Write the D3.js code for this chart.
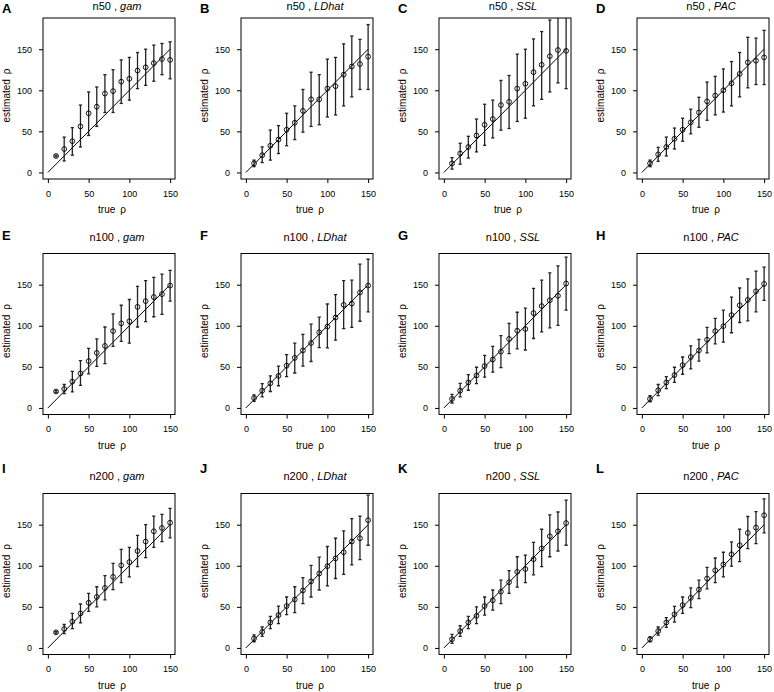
<!DOCTYPE html>
<html>
<head>
<meta charset="utf-8">
<script src="https://cdn.jsdelivr.net/npm/d3@7"></script>
<style>
  body { margin: 0; background: #fff; }
  svg { display: block; font-family: "Liberation Sans", Arial, sans-serif; }
</style>
</head>
<body>
<svg id="chart" width="774" height="692"></svg>
<script>
// true rho values (x), same for every panel
var trueRho = [10, 20, 30, 40, 50, 60, 70, 80, 90, 100, 110, 120, 130, 140, 150];

var sampleSizes = ["n50", "n100", "n200"];
var methods = ["gam", "LDhat", "SSL", "PAC"];
var panelLetters = ["A", "B", "C", "D", "E", "F", "G", "H", "I", "J", "K", "L"];
var tickVals = [0, 50, 100, 150];

// ---- n50 ----
var n50_gam_est = [20, 28.5, 38, 56, 72, 80, 96, 99, 110.5, 114, 124, 128, 133, 138, 137];
var n50_gam_lo  = [19, 14, 21, 31, 45, 56, 73, 73, 84, 88, 102, 106, 111, 119, 114];
var n50_gam_hi  = [21, 43, 54.5, 82, 98, 104, 119, 125, 137, 140, 146, 150, 155, 157, 159];

var n50_LDhat_est = [11, 21, 32.5, 40, 52, 60.5, 75, 89, 89, 102, 105, 119, 129, 132, 141];
var n50_LDhat_lo  = [7, 12, 15, 23, 32.5, 40, 49, 56, 58, 67.5, 70, 81, 92, 101, 101];
var n50_LDhat_hi  = [15, 31, 51.5, 57, 72, 81, 101, 122, 119, 138, 140, 156.5, 166, 162, 180];

var n50_SSL_est = [11, 23, 31, 45, 58, 65, 82, 86, 102, 108, 122, 131, 141.5, 149, 148];
var n50_SSL_lo  = [4, 10, 17.5, 25, 33, 42, 51.5, 53.5, 62, 66, 81, 89, 98, 109, 102];
var n50_SSL_hi  = [18, 35.5, 44, 65, 83, 88, 112, 118, 144, 150, 162.5, 171.5, 185.5, 196, 200];

var n50_PAC_est = [11, 22, 31, 41, 52, 61, 73, 86.5, 93.5, 100, 108.5, 120, 134, 136, 140];
var n50_PAC_lo  = [7, 13.5, 20, 28.5, 38, 47, 55, 63.5, 70, 73.5, 81, 92, 103, 107, 107];
var n50_PAC_hi  = [15, 30.5, 43, 54, 66, 77, 91.5, 110, 117, 126, 135, 146, 164.5, 163.5, 173];

// ---- n100 ----
var n100_gam_est = [20, 23, 32, 42, 57, 67, 75.5, 93.5, 103, 105.5, 123, 130, 135, 138.5, 149];
var n100_gam_lo  = [19, 17.5, 19.5, 27.5, 41.5, 50.5, 54, 75, 81, 79, 98.5, 105, 111, 114, 130];
var n100_gam_hi  = [21, 28.5, 44.5, 57.5, 72.5, 84, 98.5, 114.5, 125, 132, 148, 155, 159, 163, 167.5];

var n100_LDhat_est = [12, 21, 30, 39, 51.5, 61, 70, 79, 92, 99, 110, 125.5, 127, 140.5, 149];
var n100_LDhat_lo  = [8, 13.5, 20, 27, 38, 42.5, 51, 56.5, 73.5, 73, 82.5, 96.5, 98, 105.5, 117];
var n100_LDhat_hi  = [16, 29.5, 39, 51, 65, 79, 89.5, 102, 110.5, 126.5, 138, 155, 155.5, 175, 181];

var n100_SSL_est = [11, 21, 31, 39.5, 51, 59, 68.5, 84, 94, 96, 115.5, 124, 131, 136.5, 151.5];
var n100_SSL_lo  = [6, 13.5, 21.5, 29.5, 37.5, 43.5, 49, 66, 72, 70.5, 84.5, 92.5, 97.5, 100.5, 119];
var n100_SSL_hi  = [16.5, 30, 40.5, 49.5, 64, 75, 88, 103, 116.5, 121.5, 145.5, 155.5, 164.5, 173, 183.5];

var n100_PAC_est = [11, 21.5, 31, 40, 52, 62, 70, 83, 93.5, 99.5, 113, 125, 131.5, 142, 151];
var n100_PAC_lo  = [7.5, 15, 23.5, 31, 41, 47.5, 57, 67, 78, 80, 91.5, 104, 106, 117, 131];
var n100_PAC_hi  = [15, 28.5, 38, 49.5, 62, 75.5, 83.5, 98, 109, 119, 135, 146, 157, 166.5, 171.5];

// ---- n200 ----
var n200_gam_est = [19, 23, 32, 42, 55, 62, 73, 86.5, 100.5, 104.5, 118, 129.5, 142, 146, 152.5];
var n200_gam_lo  = [18, 17.5, 23.5, 30.5, 44.5, 50, 58.5, 71, 79.5, 86.5, 99, 110, 122.5, 129.5, 134];
var n200_gam_hi  = [20, 28.5, 42, 53.5, 66.5, 74.5, 88, 103, 120, 122.5, 137, 150, 160.5, 162.5, 170];

var n200_LDhat_est = [11.5, 19.5, 31, 40, 51, 59, 70, 81, 90.5, 99.5, 109, 116.5, 129.5, 133.5, 155.5];
var n200_LDhat_lo  = [7.5, 14, 23.5, 29.5, 40.5, 43, 54, 62, 70.5, 75.5, 84.5, 89.5, 101, 107.5, 125];
var n200_LDhat_hi  = [16, 25.5, 38.5, 51, 62, 74.5, 85.5, 100.5, 110.5, 123.5, 133.5, 142.5, 157.5, 160.5, 186];

var n200_SSL_est = [10.5, 20.5, 31, 39, 51, 58, 68.5, 80, 92.5, 96, 108, 121, 136, 142, 152];
var n200_SSL_lo  = [5.5, 14, 23.5, 29.5, 40, 46, 54, 66.5, 74, 79.5, 89, 99, 111, 118, 125];
var n200_SSL_hi  = [16.5, 27, 38.5, 50, 62, 70.5, 82.5, 94, 111, 113, 128.5, 144.5, 162, 165.5, 180];

var n200_PAC_est = [10.5, 20.5, 31, 41, 52, 61, 71, 84.5, 94.5, 101.5, 114, 125, 140, 146.5, 161.5];
var n200_PAC_lo  = [7.5, 15.5, 25, 31.5, 42, 49, 60, 72, 79.5, 86.5, 99.5, 105, 121, 127, 140];
var n200_PAC_hi  = [13.5, 25.5, 37, 50.5, 62, 73, 82.5, 98, 109.5, 116.5, 129, 144.5, 160, 166, 181.5];

// panel table, row by row (sample size), column by column (method)
var panelData = [
  [[n50_gam_est, n50_gam_lo, n50_gam_hi], [n50_LDhat_est, n50_LDhat_lo, n50_LDhat_hi],
   [n50_SSL_est, n50_SSL_lo, n50_SSL_hi], [n50_PAC_est, n50_PAC_lo, n50_PAC_hi]],
  [[n100_gam_est, n100_gam_lo, n100_gam_hi], [n100_LDhat_est, n100_LDhat_lo, n100_LDhat_hi],
   [n100_SSL_est, n100_SSL_lo, n100_SSL_hi], [n100_PAC_est, n100_PAC_lo, n100_PAC_hi]],
  [[n200_gam_est, n200_gam_lo, n200_gam_hi], [n200_LDhat_est, n200_LDhat_lo, n200_LDhat_hi],
   [n200_SSL_est, n200_SSL_lo, n200_SSL_hi], [n200_PAC_est, n200_PAC_lo, n200_PAC_hi]]
];

// layout
var boxW = 132, boxH = 161;
var colLeft = [43, 241, 439, 637];
var rowTop = [18, 253.5, 493.5];
var letterY = [13, 240, 473];
var titleY = [10, 241, 480];

var x = d3.scaleLinear().domain([-6, 156]).range([0, boxW]);
var y = d3.scaleLinear().domain([-8, 188]).range([boxH, 0]);

var svg = d3.select("#chart");

sampleSizes.forEach(function(n, r) {
  methods.forEach(function(m, c) {
    var idx = r * 4 + c;
    var est = panelData[r][c][0], lo = panelData[r][c][1], hi = panelData[r][c][2];
    var pts = trueRho.map(function(t, i) { return { x: t, est: est[i], lo: lo[i], hi: hi[i] }; });

    var g = svg.append("g")
      .attr("transform", "translate(" + colLeft[c] + "," + rowTop[r] + ")");

    // panel letter
    svg.append("text")
      .attr("x", colLeft[c] - 41)
      .attr("y", letterY[r])
      .attr("font-size", 13)
      .attr("font-weight", "bold")
      .text(panelLetters[idx]);

    // title  "n50 , gam"
    var title = svg.append("text")
      .attr("x", colLeft[c] + boxW / 2 + 8)
      .attr("y", titleY[r])
      .attr("text-anchor", "middle")
      .attr("font-size", 11);
    title.append("tspan").text(n + " , ");
    title.append("tspan").attr("font-style", "italic").text(m);

    // clip for marks
    g.append("clipPath").attr("id", "clip-" + idx)
      .append("rect").attr("width", boxW).attr("height", boxH);

    var marks = g.append("g").attr("clip-path", "url(#clip-" + idx + ")");

    // y = x reference line
    marks.append("line")
      .attr("x1", x(0)).attr("y1", y(0))
      .attr("x2", x(150)).attr("y2", y(150))
      .attr("stroke", "#000").attr("stroke-width", 1);

    // error bars
    var bars = marks.selectAll("g.bar").data(pts).enter().append("g").attr("class", "bar")
      .attr("stroke", "#222").attr("stroke-width", 1.3);
    bars.append("line")
      .attr("x1", function(d) { return x(d.x); }).attr("x2", function(d) { return x(d.x); })
      .attr("y1", function(d) { return y(d.lo); }).attr("y2", function(d) { return y(d.hi); });
    bars.append("line")
      .attr("x1", function(d) { return x(d.x) - 1.6; }).attr("x2", function(d) { return x(d.x) + 1.6; })
      .attr("y1", function(d) { return y(d.lo); }).attr("y2", function(d) { return y(d.lo); });
    bars.append("line")
      .attr("x1", function(d) { return x(d.x) - 1.6; }).attr("x2", function(d) { return x(d.x) + 1.6; })
      .attr("y1", function(d) { return y(d.hi); }).attr("y2", function(d) { return y(d.hi); });

    // points
    marks.selectAll("circle").data(pts).enter().append("circle")
      .attr("cx", function(d) { return x(d.x); })
      .attr("cy", function(d) { return y(d.est); })
      .attr("r", 2.4)
      .attr("fill", "none")
      .attr("stroke", "#000")
      .attr("stroke-width", 0.9);

    // box
    g.append("rect")
      .attr("width", boxW).attr("height", boxH)
      .attr("fill", "none").attr("stroke", "#000").attr("stroke-width", 1);

    // axes
    var xAxis = g.append("g").attr("transform", "translate(0," + boxH + ")")
      .call(d3.axisBottom(x).tickValues(tickVals).tickSize(4).tickPadding(7.5));
    var yAxis = g.append("g")
      .call(d3.axisLeft(y).tickValues(tickVals).tickSize(4).tickPadding(7));
    [xAxis, yAxis].forEach(function(a) {
      a.select(".domain").remove();
      a.selectAll("text").attr("font-size", 9).attr("font-family", "Liberation Sans, Arial, sans-serif").attr("fill", "#000");
      a.selectAll("line").attr("stroke", "#000");
    });

    // axis labels
    g.append("text")
      .attr("x", boxW / 2 + 3)
      .attr("y", boxH + 34)
      .attr("text-anchor", "middle")
      .attr("font-size", 10)
      .text("true\u2002\u03c1");
    g.append("text")
      .attr("transform", "translate(-33," + (boxH / 2 - 3) + ") rotate(-90)")
      .attr("text-anchor", "middle")
      .attr("font-size", 10)
      .text("estimated\u2002\u03c1");
  });
});
</script>
</body>
</html>
